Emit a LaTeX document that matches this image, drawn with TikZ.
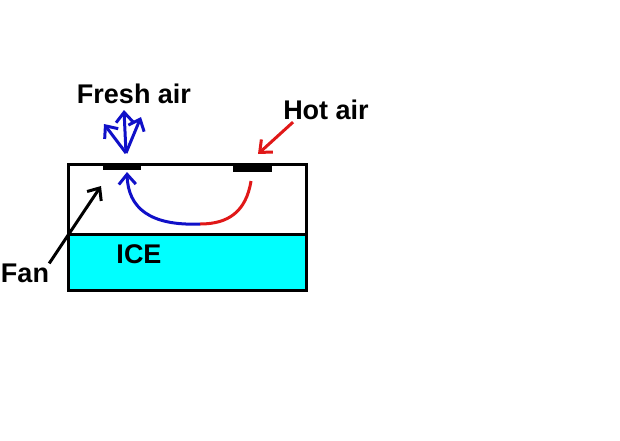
\documentclass[tikz,border=0pt]{standalone}
\usepackage{fontspec}
\setmainfont{Liberation Sans}
\usepackage{tikz}
\usetikzlibrary{positioning,arrows.meta}

\definecolor{iceblue}{HTML}{00FFFF}
\definecolor{coolair}{HTML}{1010C8}
\definecolor{warmair}{HTML}{E01818}

\begin{document}
\begin{tikzpicture}[x=1pt, y=-1pt,
  lbl/.style={font=\bfseries\fontsize{27}{30}\selectfont, inner sep=0pt},
  vent/.style={fill=black, inner sep=0pt, minimum width=38pt, minimum height=6pt},
  arr/.style={line width=3pt, -{Straight Barb[length=10pt, width=17pt, line width=3pt]}},
  wall/.style={draw=black, line width=3pt}
]
\useasboundingbox (0,0) rectangle (620,440);
% cooler box
\fill[iceblue] (68,234) rectangle (306,290);
\draw[wall] (68,164) rectangle (306,290);
\draw[wall] (68,234) -- (306,234);
\node[vent] (ventL) at (122,167) {};
\node[vent, minimum width=39pt, minimum height=7pt] (ventR) at (252,168) {};
% labels
\node[lbl] (fresh) at (134,94) {Fresh air};
\node[lbl] (hot) at (326,110) {Hot air};
\node[lbl] (fan) at (25,273) {Fan};
\node[lbl] (ice) at (139,254) {ICE};
% points
\coordinate (spout) at (126,153);
\coordinate (fanTip) at (101,186);
\coordinate (hotTip) at (258,154);
\coordinate (inflow) at (251,181);
\coordinate (bottom) at (200,224);
\coordinate (outflow) at (127,172);
% arrows
\draw[arr, coolair] (spout) -- (104,124);
\draw[arr, coolair] (spout) -- (124,110);
\draw[arr, coolair] (spout) -- (141,117);
\draw[arr, warmair] (hot.south west) ++(10,2) -- (hotTip);
\draw[warmair, line width=3pt] (inflow) .. controls (246,212) and (228,224) .. (bottom);
\draw[arr, coolair] (bottom) .. controls (150,226) and (128,208) .. (outflow);
\draw[arr, black] (fan.north east) -- (fanTip);
\end{tikzpicture}
\end{document}
